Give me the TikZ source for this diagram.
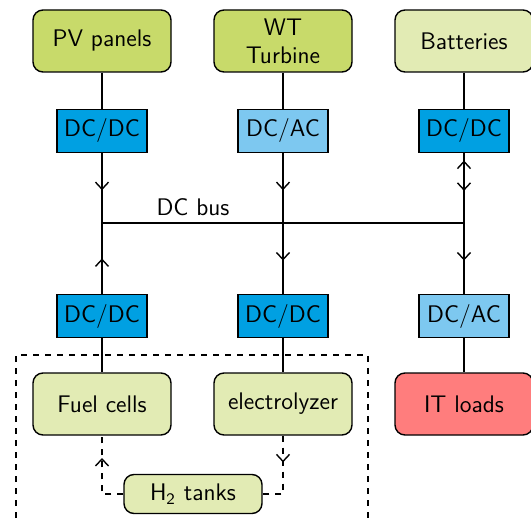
\documentclass[tikz,border=0pt]{standalone}
\usetikzlibrary{decorations.markings, arrows.meta}

\definecolor{srcgreen}{RGB}{200,218,106}
\definecolor{palegreen}{RGB}{226,235,180}
\definecolor{dcblue}{RGB}{0,160,226}
\definecolor{acblue}{RGB}{125,200,240}
\definecolor{loadred}{RGB}{255,125,125}

\begin{document}
\begin{tikzpicture}[
    x=0.5pt, y=-0.5pt,
    font=\sffamily\large,
    unit/.style={draw, rounded corners=5pt, minimum width=69pt,
                 minimum height=31pt, align=center, line width=0.7pt},
    conv/.style={draw, rectangle, minimum width=45pt, minimum height=21.5pt,
                 line width=0.7pt},
    wire/.style={line width=0.7pt},
    barb/.tip={Straight Barb[length=3.5pt, width=6.5pt]},
    midarrow/.style={postaction={decorate}, decoration={markings,
                     mark=at position #1 with {\arrow{barb}}}},
    twoway/.style={postaction={decorate}, decoration={markings,
                   mark=at position 0.23 with {\arrow{barb[reversed]}},
                   mark=at position 0.54 with {\arrow{barb}}}}
]
    \useasboundingbox (0,0) rectangle (531,519);

    % Sources
    \node[unit, fill=srcgreen] (pv) at (102,41) {PV panels};
    \node[unit, fill=srcgreen] (wt) at (283,41) {WT\\Turbine};
    \node[unit, fill=palegreen] (bat) at (464,41) {Batteries};

    % Upper converters
    \node[conv, fill=dcblue] (c1) at (102,131) {DC/DC};
    \node[conv, fill=acblue] (c2) at (283,131) {DC/AC};
    \node[conv, fill=dcblue] (c3) at (464,131) {DC/DC};

    % Bus
    \coordinate (bus1) at (102,223);
    \coordinate (bus2) at (283,223);
    \coordinate (bus3) at (464,223);
    \node (buslbl) at (193,207) {DC bus};

    % Lower converters
    \node[conv, fill=dcblue] (c4) at (102,316) {DC/DC};
    \node[conv, fill=dcblue] (c5) at (283,316) {DC/DC};
    \node[conv, fill=acblue] (c6) at (464,316) {DC/AC};

    % Hydrogen chain and loads
    \draw[dashed, wire] (16,530) -- (16,355) -- (368,355) -- (368,530);
    \node[unit, fill=palegreen] (fc) at (102,404) {Fuel cells};
    \node[unit, fill=palegreen] (ez) at (283,404) {electrolyzer};
    \node[unit, fill=loadred] (it) at (464,404) {IT loads};
    \node[unit, fill=palegreen, minimum height=19.5pt] (h2) at (193,494)
        {H\textsubscript{2} tanks};

    % Wires
    \draw[wire] (pv) -- (c1);
    \draw[wire] (wt) -- (c2);
    \draw[wire] (bat) -- (c3);
    \draw[wire] (bus1) -- (bus3);
    \draw[wire, midarrow=0.53] (c1) -- (bus1);
    \draw[wire, midarrow=0.53] (c2) -- (bus2);
    \draw[wire, twoway] (c3) -- (bus3);
    \draw[wire, midarrow=0.5] (c4) -- (bus1);
    \draw[wire, midarrow=0.53] (bus2) -- (c5);
    \draw[wire, midarrow=0.53] (bus3) -- (c6);
    \draw[wire] (c4) -- (fc);
    \draw[wire] (c5) -- (ez);
    \draw[wire] (c6) -- (it);
    \draw[wire, dashed, midarrow=0.72] (h2.west) -| (fc.south);
    \draw[wire, dashed, midarrow=0.34] (ez.south) |- (h2.east);
\end{tikzpicture}
\end{document}
